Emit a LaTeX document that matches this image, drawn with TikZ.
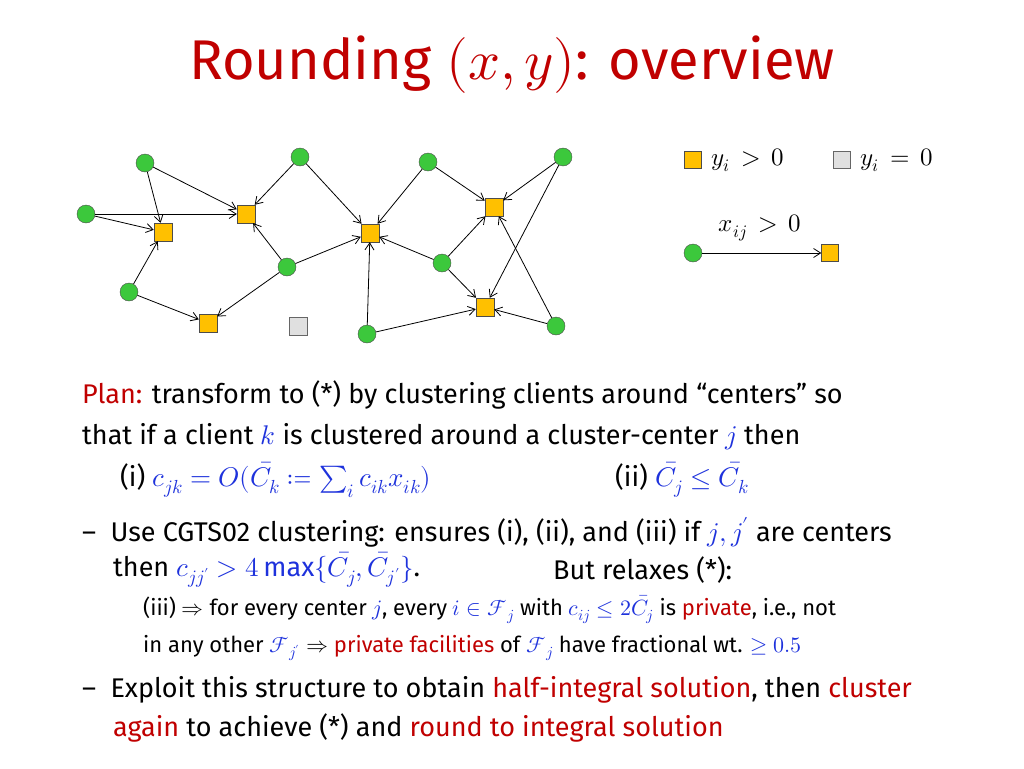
\documentclass[tikz,border=0pt]{standalone}
\usepackage{mathtools}
\usepackage{fontspec}
\usepackage{unicode-math}
\setmainfont{Fira Sans}
\setmathfont{Latin Modern Math}
\usetikzlibrary{arrows.meta}
\definecolor{accent}{RGB}{192,0,0}
\definecolor{mathblue}{RGB}{30,50,220}
\definecolor{facfill}{RGB}{255,192,0}
\definecolor{cligreen}{RGB}{60,200,60}
\tikzset{
  client/.style={circle, draw=black!70, fill=cligreen, minimum size=18pt, inner sep=0pt},
  fac/.style={rectangle, draw=black!70, fill=facfill, minimum size=18pt, inner sep=0pt},
  closedfac/.style={rectangle, draw=black!60, fill=black!12, minimum size=18pt, inner sep=0pt},
  assign/.style={-{Straight Barb[length=7pt,width=9pt]}, thick},
  line/.style={anchor=west, inner sep=0pt, font=\fontsize{27}{32}\selectfont},
  subline/.style={anchor=west, inner sep=0pt, font=\fontsize{22}{26}\selectfont}
}
\newcommand{\mb}[1]{\textcolor{mathblue}{$#1$}}
\begin{document}
\begin{tikzpicture}[x=1pt,y=-1pt]
  \useasboundingbox (0,0) rectangle (1024,768);
  \node[font=\fontsize{56}{64}\selectfont, text=accent] (title) at (512,65) {Rounding $(x,y)$: overview};

  % facilities
  \node[fac] (f1) at (163,232) {};
  \node[fac] (f2) at (246,214) {};
  \node[fac] (f3) at (208,323) {};
  \node[fac] (f4) at (370,233) {};
  \node[fac] (f5) at (494,207) {};
  \node[fac] (f6) at (485,307) {};
  \node[closedfac] (f7) at (298,326) {};
  % clients
  \node[client] (c1) at (145,163) {};
  \node[client] (c2) at (86,214) {};
  \node[client] (c3) at (129,292) {};
  \node[client] (c4) at (300,157) {};
  \node[client] (c5) at (287,267) {};
  \node[client] (c6) at (428,162) {};
  \node[client] (c7) at (442,263) {};
  \node[client] (c8) at (563,157) {};
  \node[client] (c9) at (367,334) {};
  \node[client] (c10) at (556,326) {};

  \foreach \c/\f in {c1/f1,c1/f2,c2/f2,c2/f1,c3/f1,c3/f3,c4/f2,c4/f4,c5/f2,c5/f4,c5/f3,
                     c6/f4,c6/f5,c7/f4,c7/f5,c7/f6,c8/f5,c8/f6,c9/f4,c9/f6,c10/f6,c10/f5}
    \draw[assign] (\c) -- (\f);

  % legend
  \node[fac, minimum size=17pt] (lf) at (693,160) {};
  \node[anchor=west, font=\fontsize{25}{28}\selectfont] (lfl) at (708,160) {$y_i\,>\,0$};
  \node[closedfac, minimum size=17pt] (lg) at (842,160) {};
  \node[anchor=west, font=\fontsize{25}{28}\selectfont] (lgl) at (857,160) {$y_i\,=\,0$};
  \node[font=\fontsize{25}{28}\selectfont] (lxl) at (760,228) {$x_{ij}\,>\,0$};
  \node[client] (lc) at (693,253) {};
  \node[fac, minimum size=17pt] (lff) at (830,253) {};
  \draw[assign] (lc) -- (lff);

  % text
  \node[line] (t1) at (82,395) {\textcolor{accent}{Plan:} transform to (*) by clustering clients around “centers” so};
  \node[line] (t2) at (82,437) {that if a client \mb{k} is clustered around a cluster-center \mb{j} then};
  \node[line] (t3) at (120,480) {(i) \mb{c_{jk}=O(\bar C_k\coloneqq \sum_i c_{ik}x_{ik})}};
  \node[line] (t3b) at (615,480) {(ii) \mb{\bar C_j\le \bar C_k}};
  \node[line] (t4) at (82,532) {\textendash\ \ Use CGTS02 clustering: ensures (i), (ii), and (iii) if \mb{j,j'} are centers};
  \node[line] (t5) at (113,570) {then \mb{c_{jj'}>4\max\{\bar C_j,\bar C_{j'}\}}.};
  \node[line] (t5b) at (553,570) {But relaxes (*):};
  \node[subline] (t6) at (143,610) {(iii) $\Rightarrow$ for every center \mb{j}, every \mb{i\in\mathcal F_j} with \mb{c_{ij}\le 2\bar C_j} is \textcolor{accent}{private}, i.e., not};
  \node[subline] (t7) at (143,648) {in any other \mb{\mathcal F_{j'}} $\Rightarrow$ \textcolor{accent}{private facilities} of \mb{\mathcal F_j} have fractional wt. \mb{\ge 0.5}};
  \node[line] (t8) at (82,690) {\textendash\ \ Exploit this structure to obtain \textcolor{accent}{half-integral solution}, then \textcolor{accent}{cluster}};
  \node[line] (t9) at (113,728) {\textcolor{accent}{again} to achieve (*) and \textcolor{accent}{round to integral solution}};
\end{tikzpicture}
\end{document}
